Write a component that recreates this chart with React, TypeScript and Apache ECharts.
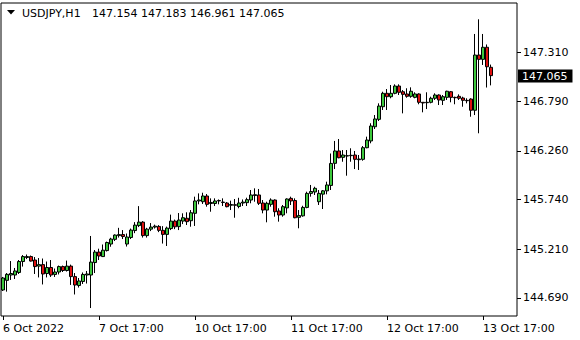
import React, { useEffect, useRef } from "react";
import * as echarts from "echarts";

const symbol = "USDJPY,H1";

// hourly bars, 6 Oct 17:00 .. 13 Oct 19:00 (server time)
const opens = [
  144.775, 144.878, 144.935, 144.935, 144.962, 145.079, 145.122, 145.132, 145.095, 145.030,
  145.046, 144.951, 145.015, 144.941, 144.967, 145.025, 144.983, 145.030, 144.918, 144.823,
  144.866, 144.935, 144.935, 145.068, 145.180, 145.132, 145.196, 145.266, 145.316, 145.356,
  145.367, 145.266, 145.336, 145.410, 145.463, 145.500, 145.356, 145.425, 145.447, 145.454,
  145.412, 145.369, 145.431, 145.511, 145.452, 145.511, 145.541, 145.515, 145.594, 145.726,
  145.718, 145.779, 145.699, 145.699, 145.726, 145.714, 145.704, 145.680, 145.686, 145.667,
  145.704, 145.708, 145.736, 145.784, 145.790, 145.704, 145.629, 145.690, 145.736, 145.619,
  145.576, 145.652, 145.754, 145.731, 145.551, 145.567, 145.657, 145.807, 145.822, 145.718,
  145.799, 145.834, 145.892, 146.128, 146.260, 146.192, 146.206, 146.210, 146.217, 146.167,
  146.171, 146.295, 146.367, 146.519, 146.598, 146.733, 146.876, 146.840, 146.876, 146.954,
  146.893, 146.869, 146.844, 146.833, 146.869, 146.780, 146.776, 146.780, 146.823, 146.858,
  146.801, 146.833, 146.893, 146.833, 146.844, 146.826, 146.801, 146.815, 146.695, 147.285,
  147.239, 147.368, 147.154,
];
const highs = [
  144.914, 144.956, 145.084, 145.010, 145.095, 145.148, 145.154, 145.143, 145.127, 145.116,
  145.111, 145.079, 145.095, 145.004, 145.036, 145.036, 145.089, 145.046, 144.956, 144.903,
  144.962, 144.978, 145.352, 145.202, 145.216, 145.261, 145.292, 145.333, 145.369, 145.439,
  145.415, 145.378, 145.431, 145.500, 145.671, 145.511, 145.439, 145.490, 145.473, 145.468,
  145.457, 145.452, 145.580, 145.527, 145.597, 145.594, 145.605, 145.629, 145.772, 145.807,
  145.814, 145.800, 145.754, 145.754, 145.742, 145.754, 145.714, 145.729, 145.747, 145.760,
  145.742, 145.761, 145.843, 145.861, 145.854, 145.736, 145.718, 145.754, 145.743, 145.648,
  145.683, 145.754, 145.772, 145.754, 145.629, 145.675, 145.825, 145.897, 145.878, 145.843,
  145.843, 145.932, 146.233, 146.367, 146.388, 146.270, 146.270, 146.289, 146.260, 146.217,
  146.313, 146.413, 146.556, 146.644, 146.769, 146.893, 146.922, 146.965, 146.972, 146.972,
  146.911, 146.930, 146.940, 146.887, 146.876, 146.780, 146.887, 146.840, 146.876, 146.865,
  146.858, 146.904, 146.901, 146.840, 146.865, 146.840, 146.823, 146.823, 147.510, 147.667,
  147.510, 147.398, 147.183,
];
const lows = [
  144.764, 144.757, 144.882, 144.892, 144.946, 145.025, 145.105, 145.079, 144.946, 144.909,
  144.834, 144.909, 144.914, 144.914, 144.941, 144.967, 144.972, 144.829, 144.727, 144.801,
  144.839, 144.844, 144.582, 144.956, 145.095, 145.127, 145.186, 145.237, 145.298, 145.335,
  145.319, 145.239, 145.319, 145.382, 145.447, 145.335, 145.335, 145.404, 145.431, 145.393,
  145.271, 145.245, 145.415, 145.425, 145.415, 145.479, 145.469, 145.451, 145.459, 145.690,
  145.694, 145.665, 145.611, 145.672, 145.690, 145.672, 145.658, 145.629, 145.547, 145.648,
  145.672, 145.672, 145.701, 145.718, 145.683, 145.594, 145.498, 145.665, 145.558, 145.505,
  145.558, 145.594, 145.683, 145.541, 145.434, 145.558, 145.648, 145.772, 145.790, 145.683,
  145.640, 145.797, 145.843, 146.067, 146.182, 146.145, 145.996, 146.145, 146.067, 146.057,
  146.156, 146.289, 146.342, 146.495, 146.580, 146.698, 146.698, 146.823, 146.866, 146.858,
  146.662, 146.829, 146.829, 146.823, 146.759, 146.673, 146.708, 146.769, 146.805, 146.751,
  146.751, 146.805, 146.780, 146.759, 146.805, 146.733, 146.769, 146.626, 146.644, 146.449,
  147.179, 146.938, 146.961,
];
const closes = [
  144.903, 144.942, 144.951, 144.978, 145.079, 145.132, 145.132, 145.084, 145.025, 145.046,
  144.946, 145.015, 144.935, 144.967, 145.025, 144.983, 145.030, 144.918, 144.828, 144.871,
  144.941, 144.946, 145.073, 145.180, 145.138, 145.200, 145.282, 145.319, 145.362, 145.367,
  145.346, 145.341, 145.415, 145.468, 145.500, 145.356, 145.425, 145.447, 145.457, 145.412,
  145.369, 145.436, 145.511, 145.450, 145.522, 145.547, 145.505, 145.600, 145.726, 145.736,
  145.779, 145.690, 145.710, 145.726, 145.731, 145.710, 145.665, 145.688, 145.680, 145.704,
  145.714, 145.740, 145.790, 145.793, 145.701, 145.629, 145.701, 145.736, 145.611, 145.576,
  145.665, 145.747, 145.726, 145.547, 145.570, 145.657, 145.807, 145.827, 145.861, 145.807,
  145.834, 145.897, 146.127, 146.260, 146.188, 146.217, 146.210, 146.214, 146.171, 146.174,
  146.295, 146.377, 146.527, 146.602, 146.740, 146.876, 146.840, 146.876, 146.954, 146.887,
  146.865, 146.844, 146.898, 146.869, 146.780, 146.773, 146.780, 146.823, 146.858, 146.805,
  146.840, 146.898, 146.833, 146.829, 146.823, 146.801, 146.797, 146.695, 147.285, 147.239,
  147.368, 147.160, 147.065,
];

const tradingDays = ["6 Oct", "7 Oct", "10 Oct", "11 Oct", "12 Oct", "13 Oct", "14 Oct"];
const firstHour = 17;
const slotCount = 129; // bars + empty right margin

const timeTickIndices = [0, 24, 48, 72, 96, 120];
const timeTickLabels = ["6 Oct 2022", "7 Oct 17:00", "10 Oct 17:00", "11 Oct 17:00", "12 Oct 17:00", "13 Oct 17:00"];

const priceTicks = [144.69, 145.21, 145.74, 146.26, 146.79, 147.31];
const priceMin = 144.497;
const priceMax = 147.841;

const FONT = "'DejaVu Sans', sans-serif";

function buildCategories(): string[] {
  const out: string[] = [];
  let d = 0;
  let h = firstHour;
  while (out.length < slotCount) {
    out.push(`${tradingDays[d]} ${String(h).padStart(2, "0")}:00`);
    h++;
    if (h === 24) {
      h = 0;
      d++;
    }
  }
  return out;
}

export default function App() {
  const ref = useRef<HTMLDivElement>(null);

  useEffect(() => {
    document.body.style.margin = "0";
    if (!ref.current) return;
    const chart = echarts.init(ref.current, undefined, { renderer: "svg" });
    const categories = buildCategories();
    const data = opens.map((o, i) => [o, closes[i], lows[i], highs[i]]);
    const last = opens.length - 1;
    const ohlcText = [opens[last], highs[last], lows[last], closes[last]].map((v) => v.toFixed(3)).join(" ");
    const isTick = (i: number) => timeTickIndices.indexOf(i) >= 0;

    chart.setOption({
      animation: false,
      backgroundColor: "#fff",
      textStyle: { fontFamily: FONT },
      grid: {
        left: 1,
        right: 63,
        top: 3,
        bottom: 24,
        show: true,
        borderColor: "#000",
        borderWidth: 1,
        backgroundColor: "#fff",
      },
      xAxis: {
        type: "category",
        data: categories,
        boundaryGap: true,
        axisLine: { show: false },
        axisTick: {
          show: true,
          alignWithLabel: true,
          interval: (i: number) => isTick(i),
          length: 4,
          lineStyle: { color: "#000" },
        },
        axisLabel: {
          interval: (i: number) => isTick(i),
          formatter: (_v: string, i: number) => timeTickLabels[timeTickIndices.indexOf(i)] ?? "",
          align: "left",
          color: "#000",
          fontSize: 11,
          fontFamily: FONT,
          margin: 7,
        },
        splitLine: { show: false },
      },
      yAxis: {
        type: "value",
        position: "right",
        min: priceMin,
        max: priceMax,
        axisLine: { show: false },
        axisTick: {
          show: true,
          customValues: priceTicks,
          length: 4,
          lineStyle: { color: "#000" },
        },
        axisLabel: {
          customValues: priceTicks,
          formatter: (v: number) => v.toFixed(3),
          color: "#000",
          fontSize: 11,
          fontFamily: FONT,
          margin: 6,
        },
        splitLine: { show: false },
      },
      series: [
        {
          type: "candlestick",
          data,
          barWidth: 3,
          itemStyle: {
            color: "#3cc83c",
            color0: "#e01010",
            borderColor: "#000",
            borderColor0: "#000",
            borderColorDoji: "#000",
            borderWidth: 1,
          },
          markLine: {
            silent: true,
            symbol: ["none", "none"],
            lineStyle: { color: "rgba(0,0,0,0)", width: 1 },
            label: {
              show: true,
              position: "end",
              formatter: () => closes[last].toFixed(3),
              color: "#fff",
              backgroundColor: "#000",
              padding: [1, 5, 1, 4],
              fontSize: 11,
              fontFamily: FONT,
              distance: 1,
              opacity: 1,
            },
            data: [{ yAxis: closes[last] }],
          },
        },
      ],
      graphic: [
        {
          type: "polygon",
          shape: { points: [[7, 10], [15, 10], [11, 14.5]] },
          style: { fill: "#000" },
        },
        {
          type: "text",
          x: 22,
          y: 13,
          style: { text: symbol, font: `11px ${FONT}`, fill: "#000", align: "left", verticalAlign: "middle" },
        },
        {
          type: "text",
          x: 92,
          y: 13,
          style: { text: ohlcText, font: `11px ${FONT}`, fill: "#000", align: "left", verticalAlign: "middle" },
        },
      ],
    });

    return () => chart.dispose();
  }, []);

  return (
    <div
      ref={ref}
      style={{ position: "fixed", left: 0, top: 0, width: 580, height: 340, background: "#fff" }}
    />
  );
}
